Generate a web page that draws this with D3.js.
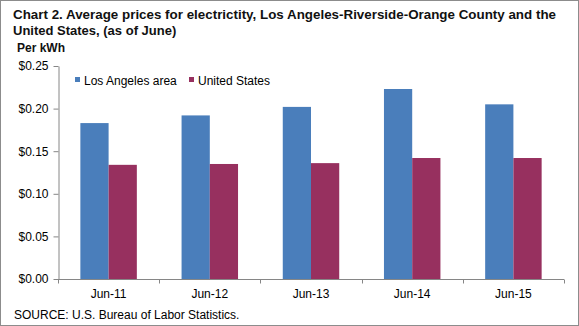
<!DOCTYPE html>
<html>
<head>
<meta charset="utf-8">
<script src="https://cdn.jsdelivr.net/npm/d3@7"></script>
<style>
  body { margin: 0; background: #fff; }
  svg { display: block; font-family: "Liberation Sans", Arial, sans-serif; }
</style>
</head>
<body>
<div id="vis"></div>
<script>
// chart data
const categories = ["Jun-11", "Jun-12", "Jun-13", "Jun-14", "Jun-15"];
const seriesNames = ["Los Angeles area", "United States"];
const laValues = [0.183, 0.192, 0.202, 0.223, 0.205];
const usValues = [0.134, 0.135, 0.136, 0.142, 0.142];
const yTicks = [0, 0.05, 0.10, 0.15, 0.20, 0.25];
const colors = ["#4a7ebb", "#97305f"];

const w = 579, h = 326;
const margin = {top: 66, right: 15, bottom: 47, left: 58};

const svg = d3.select("#vis").append("svg")
  .attr("width", w)
  .attr("height", h);

// outer border
svg.append("rect")
  .attr("x", 0.5).attr("y", 0.5)
  .attr("width", w - 1).attr("height", h - 1)
  .attr("fill", "none")
  .attr("stroke", "#8c8c8c");

// title
const title = svg.append("text")
  .attr("x", 13)
  .attr("font-size", 13)
  .attr("font-weight", "bold")
  .attr("fill", "#111");
title.append("tspan").attr("x", 13).attr("y", 19)
  .attr("textLength", 543).attr("lengthAdjust", "spacingAndGlyphs")
  .text("Chart 2. Average prices for electrictity, Los Angeles-Riverside-Orange County and the");
title.append("tspan").attr("x", 13).attr("y", 35)
  .text("United States, (as of June)");

svg.append("text")
  .attr("x", 17).attr("y", 52)
  .attr("font-size", 12)
  .attr("font-weight", "bold")
  .attr("fill", "#111")
  .text("Per kWh");

const width = w - margin.left - margin.right;
const height = h - margin.top - margin.bottom;

const y = d3.scaleLinear().domain([0, 0.25]).range([height, 0]);
const x0 = d3.scaleBand().domain(categories).range([0, width]);
const gap = x0.bandwidth() * 0.221;
const x1 = d3.scaleBand().domain(seriesNames).range([gap, x0.bandwidth() - gap]);

const g = svg.append("g")
  .attr("transform", `translate(${margin.left},${margin.top})`);

// bars
const rows = categories.map((c, i) => ({cat: c, vals: [laValues[i], usValues[i]]}));
const groups = g.selectAll(".cat")
  .data(rows)
  .enter().append("g")
  .attr("class", "cat")
  .attr("transform", d => `translate(${x0(d.cat)},0)`);

groups.selectAll("rect")
  .data(d => d.vals.map((v, j) => ({key: seriesNames[j], value: v, j: j})))
  .enter().append("rect")
  .attr("x", d => x1(d.key))
  .attr("y", d => y(d.value))
  .attr("width", x1.bandwidth())
  .attr("height", d => height - y(d.value))
  .attr("fill", d => colors[d.j]);

// y axis
const yAxis = g.append("g")
  .attr("transform", "translate(0.5,0)")
  .call(d3.axisLeft(y).tickValues(yTicks).tickSize(5).tickSizeOuter(0)
    .tickFormat(d => "$" + d3.format(".2f")(d)));
yAxis.select(".domain").attr("stroke", "#868686");
yAxis.selectAll(".tick line").attr("stroke", "#868686");
yAxis.selectAll(".tick text")
  .attr("font-size", 12)
  .attr("font-family", "Liberation Sans, Arial, sans-serif")
  .attr("fill", "#000")
  .attr("x", -10);

// x axis with ticks at category boundaries
const xAxis = g.append("g")
  .attr("transform", `translate(0,${height + 0.5})`);
xAxis.append("line")
  .attr("x1", 0).attr("x2", width)
  .attr("stroke", "#868686");
const bounds = categories.map(c => x0(c)).concat([width]);
xAxis.selectAll(".xt")
  .data(bounds)
  .enter().append("line")
  .attr("class", "xt")
  .attr("x1", d => Math.round(d) + 0.5).attr("x2", d => Math.round(d) + 0.5)
  .attr("y1", 0).attr("y2", 4)
  .attr("stroke", "#868686");
xAxis.selectAll(".xl")
  .data(categories)
  .enter().append("text")
  .attr("class", "xl")
  .attr("x", d => x0(d) + x0.bandwidth() / 2)
  .attr("y", 18)
  .attr("text-anchor", "middle")
  .attr("font-size", 12)
  .attr("fill", "#000")
  .text(d => d);

// legend
const legendX = [75, 189];
const legend = svg.selectAll(".leg")
  .data(seriesNames)
  .enter().append("g")
  .attr("class", "leg")
  .attr("transform", (d, i) => `translate(${legendX[i]},77)`);
legend.append("rect")
  .attr("width", 5).attr("height", 5)
  .attr("fill", (d, i) => colors[i]);
legend.append("text")
  .attr("x", 9).attr("y", 8)
  .attr("font-size", 12)
  .attr("fill", "#000")
  .text(d => d);

// source
svg.append("text")
  .attr("x", 14).attr("y", 319)
  .attr("font-size", 12)
  .attr("fill", "#000")
  .text("SOURCE: U.S. Bureau of Labor Statistics.");
</script>
</body>
</html>
